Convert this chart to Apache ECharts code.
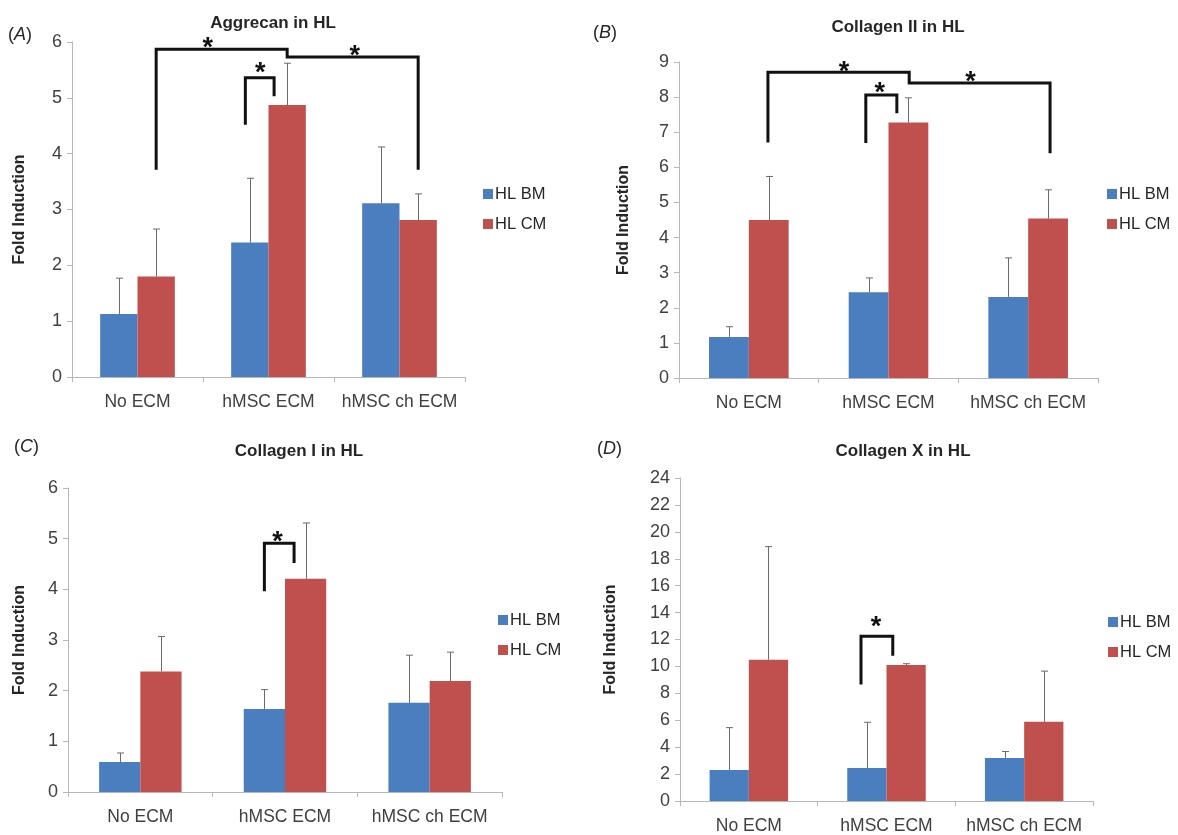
<!DOCTYPE html>
<html>
<head>
<meta charset="utf-8">
<script src="https://cdn.jsdelivr.net/npm/echarts@6/dist/echarts.min.js"></script>
<style>
html,body{margin:0;padding:0;background:#fff;}
#chart{width:1178px;height:835px;}
</style>
</head>
<body>
<div id="chart"></div>
<script>
// ---- data ----
const categories = ['No ECM', 'hMSC ECM', 'hMSC ch ECM'];
const seriesNames = ['HL BM', 'HL CM'];

// (A) Aggrecan in HL
const aggrecanBM = [1.13, 2.41, 3.11];
const aggrecanBMErr = [0.64, 1.15, 1.01];
const aggrecanCM = [1.80, 4.87, 2.81];
const aggrecanCMErr = [0.85, 0.75, 0.47];
// (B) Collagen II in HL
const col2BM = [1.17, 2.44, 2.31];
const col2BMErr = [0.29, 0.41, 1.11];
const col2CM = [4.50, 7.28, 4.54];
const col2CMErr = [1.24, 0.70, 0.82];
// (C) Collagen I in HL
const col1BM = [0.59, 1.64, 1.76];
const col1BMErr = [0.18, 0.38, 0.94];
const col1CM = [2.38, 4.21, 2.19];
const col1CMErr = [0.69, 1.10, 0.57];
// (D) Collagen X in HL
const col10BM = [2.30, 2.45, 3.20];
const col10BMErr = [3.15, 3.40, 0.48];
const col10CM = [10.50, 10.10, 5.88];
const col10CMErr = [8.40, 0.10, 3.77];

// y axis ranges
const yMax = [6, 9, 6, 24];
const yStep = [1, 1, 1, 2];
const titles = ['Aggrecan in HL', 'Collagen II in HL', 'Collagen I in HL', 'Collagen X in HL'];
const panelLetters = ['A', 'B', 'C', 'D'];

// significance brackets: polyline points [categoryIndex, offset in bar widths, value]
const bracketsA = [
  [[0, 0.5, 3.71], [0, 0.5, 5.87], [1, 0.5, 5.87], [1, 0.5, 5.73], [2, 0.5, 5.73], [2, 0.5, 3.71]],
  [[1, -0.62, 4.52], [1, -0.62, 5.36], [1, 0.15, 5.36], [1, 0.15, 5.03]]
];
const bracketsB = [
  [[0, 0.48, 6.71], [0, 0.48, 8.71], [1, 0.52, 8.71], [1, 0.52, 8.40], [2, 0.55, 8.40], [2, 0.55, 6.40]],
  [[1, -0.57, 6.69], [1, -0.57, 8.06], [1, 0.21, 8.06], [1, 0.21, 7.54]]
];
const bracketsC = [
  [[1, -0.5, 3.96], [1, -0.5, 4.91], [1, 0.22, 4.91], [1, 0.22, 4.52]]
];
const bracketsD = [
  [[1, -0.65, 8.66], [1, -0.65, 12.25], [1, 0.16, 12.25], [1, 0.16, 10.8]]
];
// significance stars: [categoryIndex, offset in bar widths, value]
const starsA = [[0, 1.88, 6.02], [2, -1.2, 5.87], [1, -0.22, 5.56]];
const starsB = [[1, -1.12, 8.92], [1, -0.22, 8.32], [2, -1.45, 8.62]];
const starsC = [[1, -0.18, 5.06]];
const starsD = [[1, -0.27, 13.4]];

const panelData = [
  {bm: aggrecanBM, bmErr: aggrecanBMErr, cm: aggrecanCM, cmErr: aggrecanCMErr, br: bracketsA, st: starsA},
  {bm: col2BM, bmErr: col2BMErr, cm: col2CM, cmErr: col2CMErr, br: bracketsB, st: starsB},
  {bm: col1BM, bmErr: col1BMErr, cm: col1CM, cmErr: col1CMErr, br: bracketsC, st: starsC},
  {bm: col10BM, bmErr: col10BMErr, cm: col10CM, cmErr: col10CMErr, br: bracketsD, st: starsD}
];

// ---- layout ----
const grids = [
  {left: 72, top: 42, width: 393, height: 335},
  {left: 679, top: 62, width: 419, height: 316},
  {left: 68, top: 488, width: 434, height: 304},
  {left: 680, top: 478, width: 413, height: 324}
];
const titlePos = [[268, 10], [893, 14], [294, 438], [898, 438]];
const letterPos = [[8, 26], [593, 24], [14, 438], [597, 440]];
const legendPos = [[483, 185], [1107, 185], [498, 611], [1108, 613]];
const yNamePos = [28, 632, 28, 619];

const BLUE = '#4a7ebf';
const RED = '#c0504d';
const GAP = 0.43;
const FONT = 'Liberation Sans, Arial, sans-serif';
const STAR_SIZE = 27;

const chart = echarts.init(document.getElementById('chart'), null, {renderer: 'canvas'});

function barW(api) {
  return api.size([1, 0])[0] * (1 - GAP) / 2;
}

const option = {
  backgroundColor: '#fff',
  animation: false,
  title: titles.map((t, i) => ({
    text: t, left: titlePos[i][0], top: titlePos[i][1], textAlign: 'center',
    textStyle: {fontFamily: FONT, fontSize: 17, fontWeight: 'bold', color: '#262626'}
  })),
  legend: legendPos.map((p, i) => ({
    data: seriesNames, orient: 'vertical', left: p[0], top: p[1], padding: 0,
    itemWidth: 10, itemHeight: 10, itemGap: 12, icon: 'rect', selectedMode: false,
    textStyle: {fontFamily: FONT, fontSize: 16.5, color: '#262626', lineHeight: 18, padding: [0, 0, 0, -3]}
  })),
  grid: grids.map(g => Object.assign({containLabel: false}, g)),
  xAxis: grids.map((g, i) => ({
    type: 'category', gridIndex: i, data: categories,
    axisLine: {lineStyle: {color: '#b7b7b7', width: 1}},
    axisTick: {show: true, alignWithLabel: false, length: 5, lineStyle: {color: '#b7b7b7'}},
    axisLabel: {interval: 0, fontFamily: FONT, fontSize: 17.5, color: '#404040', margin: 16}
  })),
  yAxis: grids.map((g, i) => ({
    type: 'value', gridIndex: i, min: 0, max: yMax[i], interval: yStep[i],
    name: 'Fold Induction', nameLocation: 'middle',
    nameGap: g.left - yNamePos[i],
    nameTextStyle: {fontFamily: FONT, fontSize: 16, fontWeight: 'bold', color: '#262626'},
    axisLine: {show: true, lineStyle: {color: '#b7b7b7', width: 1}},
    axisTick: {show: true, length: 5, lineStyle: {color: '#b7b7b7'}},
    splitLine: {show: false},
    axisLabel: {fontFamily: FONT, fontSize: 18, color: '#404040', margin: 10}
  })),
  graphic: letterPos.map((p, i) => ({
    type: 'text', left: p[0], top: p[1],
    style: {
      text: '(' + '{i|' + panelLetters[i] + '})',
      rich: {i: {fontStyle: 'italic', fontFamily: FONT, fontSize: 18, fill: '#262626'}},
      font: '18px ' + FONT, fill: '#262626'
    }
  })),
  series: []
};

panelData.forEach((pd, i) => {
  option.series.push({
    name: 'HL BM', type: 'bar', xAxisIndex: i, yAxisIndex: i, data: pd.bm,
    barGap: '0%', barCategoryGap: (GAP * 100) + '%', itemStyle: {color: BLUE}, z: 2
  });
  option.series.push({
    name: 'HL CM', type: 'bar', xAxisIndex: i, yAxisIndex: i, data: pd.cm,
    barGap: '0%', barCategoryGap: (GAP * 100) + '%', itemStyle: {color: RED}, z: 2
  });
  // error bars
  const errData = [];
  pd.bm.forEach((v, k) => errData.push([k, v, pd.bmErr[k], -1]));
  pd.cm.forEach((v, k) => errData.push([k, v, pd.cmErr[k], 1]));
  option.series.push({
    type: 'custom', xAxisIndex: i, yAxisIndex: i, data: errData, z: 3, silent: true,
    encode: {x: 0, y: 1},
    renderItem: function (params, api) {
      const idx = api.value(0), mean = api.value(1), err = api.value(2), side = api.value(3);
      const bw = barW(api);
      const base = api.coord([idx, mean]);
      const top = api.coord([idx, mean + err]);
      const x = Math.round(base[0] + side * bw / 2) + 0.5;
      const st = {stroke: '#6a6a6a', lineWidth: 1};
      return {type: 'group', children: [
        {type: 'line', shape: {x1: x, y1: base[1], x2: x, y2: top[1]}, style: st},
        {type: 'line', shape: {x1: x - 3.5, y1: top[1], x2: x + 3.5, y2: top[1]}, style: st}
      ]};
    }
  });
  // brackets
  option.series.push({
    type: 'custom', xAxisIndex: i, yAxisIndex: i, z: 5, silent: true, clip: false,
    data: pd.br.map((b, k) => [b[0][0], b[0][2], k]),
    encode: {x: 0, y: 1},
    renderItem: function (params, api) {
      const bw = barW(api);
      const pts = pd.br[api.value(2)].map(p => {
        const c = api.coord([p[0], p[2]]);
        return [c[0] + p[1] * bw, c[1]];
      });
      return {type: 'polyline', shape: {points: pts},
        style: {stroke: '#111', lineWidth: 3, fill: null, lineJoin: 'miter'}};
    }
  });
  // stars
  option.series.push({
    type: 'custom', xAxisIndex: i, yAxisIndex: i, z: 6, silent: true, clip: false,
    data: pd.st.map(s => [s[0], s[2], s[1]]),
    encode: {x: 0, y: 1},
    renderItem: function (params, api) {
      const bw = barW(api);
      const c = api.coord([api.value(0), api.value(1)]);
      return {type: 'text', x: c[0] + api.value(2) * bw, y: c[1] + STAR_SIZE * 0.27,
        style: {text: '*', font: 'bold ' + STAR_SIZE + 'px ' + FONT, fill: '#111', align: 'center', verticalAlign: 'middle'}};
    }
  });
});

chart.setOption(option);
</script>
</body>
</html>
